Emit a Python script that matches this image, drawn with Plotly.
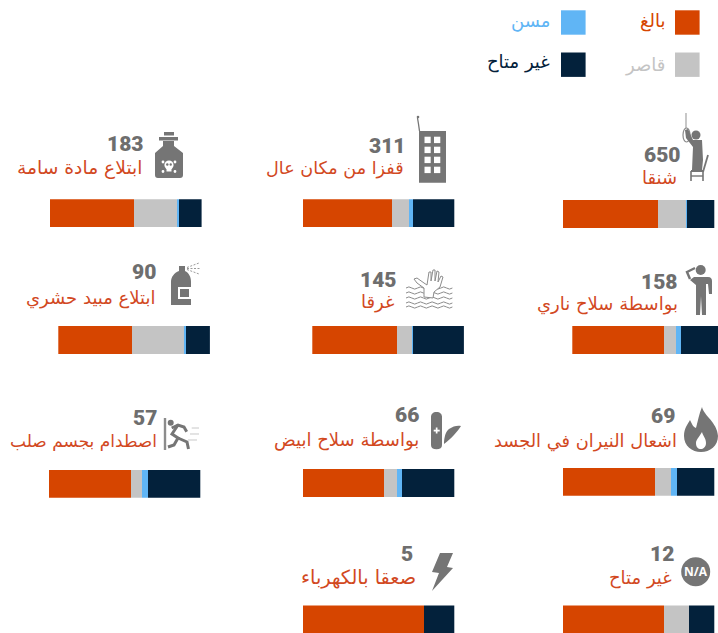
import re
import plotly.graph_objects as go

W, H = 718, 633

# ---- data ----
categories = ["شنقا", "قفزا من مكان عال", "ابتلاع مادة سامة",
              "بواسطة سلاح ناري", "غرقا", "ابتلاع مبيد حشري",
              "اشعال النيران في الجسد", "بواسطة سلاح ابيض", "اصطدام بجسم صلب",
              "غير متاح", "صعقا بالكهرباء"]
counts = ["650", "311", "183", "158", "145", "90", "69", "66", "57", "12", "5"]
adult   = [62.5, 58.6, 55.6, 60.5, 56.0, 49.0, 60.9, 53.2, 54.3, 66.7, 80.0]
minor   = [18.7, 11.0, 28.3, 8.4, 10.0, 34.5, 10.1, 9.0, 7.0, 16.7, 0.0]
elderly = [0.6, 2.9, 1.1, 3.1, 0.5, 1.0, 4.4, 3.1, 3.7, 0.0, 0.0]
unknown = [18.2, 27.5, 15.0, 28.0, 33.5, 15.5, 24.6, 34.7, 35.0, 16.6, 20.0]
series_names = ["بالغ", "قاصر", "مسن", "غير متاح"]

# ---- styles and layout ----
colors = ["#D64500", "#C4C4C4", "#60B5F5", "#03213B"]
text_red = "#D2491F"
icon_gray = "#757575"
num_gray = "#6E6E6E"
# left px, top px of each bar; widths are a common 151.6 px (clipped at right/bottom edge)
bar_x = [562.7, 302.7, 50, 572.3, 312.3, 58.3, 562.7, 302.7, 48.7, 562.7, 302.7]
bar_y = [200, 199.3, 199.3, 326, 326, 326, 467.7, 469, 469.7, 605.4, 605.4]
bar_w, bar_h = 151.6, 28
num_pos = [(682, 155), (407, 145.5), (145, 144), (679, 281.5), (398, 279.5), (157, 272),
           (676, 416), (420, 415), (157.5, 418), (675, 554), (413.5, 554)]
lab_pos = [(678, 177.5), (405, 168), (142.5, 168), (679, 304), (394.5, 302), (157, 298),
           (678, 441), (420, 440), (157.5, 441), (673, 578), (417, 577)]
lab_sizes = [18, 17.6, 18.7, 18, 18, 18, 17.8, 18, 17, 18, 19.3]
leg_size = 18


def px(x):
    return x / W


def py(y):
    return 1 - y / H


def conv(path):
    return re.sub(r"(-?\d+\.?\d*),(-?\d+\.?\d*)",
                  lambda m: f"{px(float(m[1])):.5f},{py(float(m[2])):.5f}", path)


fig = go.Figure()
layout = dict(width=W, height=H, margin=dict(l=0, r=0, t=0, b=0),
              barmode="stack", showlegend=False, paper_bgcolor="white",
              plot_bgcolor="rgba(0,0,0,0)", bargap=0,
              font=dict(family="DejaVu Sans"))

shapes = []
annotations = []

for i, cat in enumerate(categories):
    n = "" if i == 0 else str(i + 1)
    x0, y0 = bar_x[i], bar_y[i]
    x1 = min(x0 + bar_w, W)
    y1 = min(y0 + bar_h, H)
    top = (x1 - x0) / bar_w * 100
    yfrac = (y1 - y0) / bar_h
    layout["xaxis" + n] = dict(domain=[px(x0), px(x1)], range=[0, top], visible=False,
                               anchor="y" + n, fixedrange=True)
    layout["yaxis" + n] = dict(domain=[py(y1), py(y0)], range=[0.5 - yfrac, 0.5], visible=False,
                               anchor="x" + n, fixedrange=True)
    for name, vals, col in zip(series_names, [adult, minor, elderly, unknown], colors):
        fig.add_trace(go.Bar(x=[vals[i]], y=[0], width=1, orientation="h", name=name,
                             marker=dict(color=col, line=dict(width=0)),
                             xaxis="x" + n, yaxis="y" + n, hoverinfo="x+name"))
    nx, ny = num_pos[i]
    annotations.append(dict(text=counts[i], x=px(nx), y=py(ny), xref="paper", yref="paper",
                            xanchor="right", yanchor="middle", showarrow=False, borderpad=0,
                            font=dict(family="Roboto", size=21, weight=900, color=num_gray)))
    lx, ly = lab_pos[i]
    annotations.append(dict(text=cat, x=px(lx), y=py(ly), xref="paper", yref="paper",
                            xanchor="right", yanchor="middle", showarrow=False, borderpad=0,
                            font=dict(family="DejaVu Sans", size=lab_sizes[i], color=text_red)))

# ---- legend ----
leg_boxes = [(675, 10.3), (675, 52.5), (561, 10.3), (561, 52.5)]
leg_order = [0, 1, 2, 3]
leg_text = [(667, 21), (666, 65), (551, 21), (551, 62)]
for b, k, t in zip(leg_boxes, leg_order, leg_text):
    shapes.append(dict(type="rect", xref="paper", yref="paper", x0=px(b[0]), x1=px(b[0] + 24.6),
                       y0=py(b[1] + 24.4), y1=py(b[1]), fillcolor=colors[k], line=dict(width=0)))
    annotations.append(dict(text=series_names[k], x=px(t[0]), y=py(t[1]), xref="paper", yref="paper",
                            xanchor="right", yanchor="middle", showarrow=False, borderpad=0,
                            font=dict(family="DejaVu Sans", size=leg_size,
                                      color=colors[k] if k != 3 else "#03213B")))


# ---- icons (decoration) ----
def path(d, fill=icon_gray, stroke=None, w=0):
    shapes.append(dict(type="path", xref="paper", yref="paper", path=conv(d),
                       fillcolor=fill if fill else "rgba(0,0,0,0)",
                       line=dict(color=stroke or "rgba(0,0,0,0)", width=w), layer="above"))


def circle(cx, cy, r, fill=icon_gray, stroke=None, w=0, ry=None):
    ry = ry or r
    shapes.append(dict(type="circle", xref="paper", yref="paper", x0=px(cx - r), x1=px(cx + r),
                       y0=py(cy + ry), y1=py(cy - ry), fillcolor=fill if fill else "rgba(0,0,0,0)",
                       line=dict(color=stroke or "rgba(0,0,0,0)", width=w), layer="above"))


def rect(a, b, c, d, fill=icon_gray):
    path(f"M {a},{b} L {c},{b} L {c},{d} L {a},{d} Z", fill)


def line(pts, w=2, col=icon_gray):
    d = "M " + " L ".join(f"{x},{y}" for x, y in pts)
    path(d, None, col, w)


# noose + person on chair
line([(686, 113), (686, 128)], 1.5, "#B5B5B5")
circle(686.5, 135, 3.5, None, "#8A8A8A", 1.2, ry=7)
circle(696, 135, 4.5)
path("M 685,130 L 688,129 L 693,140 L 702,140 L 703,160 L 702,170 L 692,170 L 693,147 L 686,138 Z")
line([(691, 171), (704, 171)], 2)
line([(691, 171), (691, 181)], 1.6)
line([(703, 171), (703, 181)], 1.6)
line([(691, 176), (703, 176)], 1.4)
line([(703, 172), (708, 155)], 1.8)

# building
rect(419, 131, 446, 182.7)
for wy in (136.7, 146.7, 156.7, 166.7):
    rect(424.5, wy, 430.7, wy + 6.4, "white")
    rect(434, wy, 440.3, wy + 6.4, "white")
circle(418, 117, 1.3)
line([(417.5, 118), (418.5, 124), (419.5, 131)], 1.3)

# poison bottle
rect(164, 132, 174, 135.5)
rect(159, 137, 178, 140.5)
path("M 163,141 L 174,141 L 174,146 L 183,153 L 183,175 C 183,177 182,178 180,178 "
     "L 158,178 C 156,178 155,177 155,175 L 155,153 L 163,146 Z")
circle(169, 165, 4.6, "white")
rect(166.5, 168, 171.5, 171.5, "white")
for cx, cy in [(163, 162), (175, 162), (163, 171.5), (175, 171.5)]:
    circle(cx, cy, 1.4, "white")
circle(167.3, 164.5, 1.2, icon_gray)
circle(170.7, 164.5, 1.2, icon_gray)

# person with gun
circle(700.7, 270, 5)
path("M 694,277 L 708,277 C 711,277 712,279 712,281 L 712,294 L 709,294 L 708,284 L 706,284 "
     "L 706,315 L 702,315 L 701,296 L 700,315 L 696,315 L 696,285 L 690,280 Z")
line([(690, 279), (687, 272), (695, 268)], 2.4)

# drowning hand
for wy in (288, 293, 298, 303, 307):
    d = f"M 406,{wy}"
    xx = 406
    up = True
    while xx < 451:
        d += f" Q {xx + 2.9},{wy + (-2.2 if up else 2.2)} {xx + 5.8},{wy}"
        xx += 5.8
        up = not up
    path(d, None, "#8C8C8C", 1)
path("M 424,297 L 424,288 L 417,283 L 414,279 L 417,278 L 424,283 L 427,285 L 429,272 L 431,272 L 431,281 "
     "L 433,270 L 435,270 L 435,281 L 437,271 L 439,272 L 438,282 L 441,276 L 443,277 L 440,287 L 434,292 L 433,298 Z",
     "white", "#8C8C8C", 1)

# spray can
path("M 179,266 L 185,266 L 185,271 C 189,273 191,277 191,282 L 191,305 L 171,305 L 171,282 "
     "C 171,277 174,273 179,271 Z")
rect(178, 287, 191, 299, "white")
rect(180, 289, 189, 297, icon_gray)
for p in [[(187, 267.5), (199, 263)], [(187, 268.5), (200, 268.5)], [(187, 269.5), (199, 274)]]:
    shapes.append(dict(type="line", xref="paper", yref="paper", x0=px(p[0][0]), y0=py(p[0][1]),
                       x1=px(p[1][0]), y1=py(p[1][1]), line=dict(color="#9A9A9A", width=1, dash="2px,1.5px"),
                       layer="above"))

# flame
path("M 702,407 C 704,416 717,422 718,436 C 718,446 710,452 701,452 C 692,452 684,446 684,436 "
     "C 684,428 688,424 690,420 C 692,424 693,427 696,428 C 698,421 699,414 702,407 Z")
path("M 702,432 C 703,436 706,438 706,443 C 706,447 703,449 701,449 C 698,449 696,447 696,443 "
     "C 696,440 699,437 702,432 Z", "white")

# knife
path("M 431,417 C 431,414 433,412 436.5,412 C 440,412 442,414 442,417 L 442,445 C 442,448 440,449.3 436.5,449.3 "
     "C 433,449.3 431,448 431,445 Z")
rect(435.8, 427.5, 437.5, 433.5, "white")
rect(433.7, 429.7, 439.7, 431.5, "white")
path("M 444,444 C 444,437 446,431 449,429 C 453,426 458,425 461,426 C 458,431 451,439 444,444 Z")

# runner
line([(165, 418), (165, 450)], 2.4, "#8C8C8C")
circle(170.7, 422.7, 3)
line([(171.7, 428), (178, 425), (184, 427), (186.7, 431.7)], 3)
line([(178, 425), (172, 434), (178, 438), (174, 445), (168, 447)], 3)
line([(178, 438), (187, 442), (188.5, 449)], 3)
for a, b, c in [(191.7, 199, 428), (190, 199, 434), (188, 197, 440)]:
    line([(a, c), (b, c)], 1, "#C8C8C8")

# N/A badge
circle(695.7, 571.7, 14.5)
annotations.append(dict(text="<b>N/A</b>", x=px(695.7), y=py(571.7), xref="paper", yref="paper",
                        xanchor="center", yanchor="middle", showarrow=False, borderpad=0,
                        font=dict(family="Open Sans", size=12, color="white")))

# bolt
path("M 440,553 L 453,553 L 447,567 L 453,568 L 432,591 L 439,573 L 432,572 Z")

layout["shapes"] = shapes
layout["annotations"] = annotations
fig.update_layout(**layout)
fig.write_html("out.html", config=dict(displayModeBar=False),
               post_script="document.body.style.margin='0';document.body.style.overflow='hidden';")
